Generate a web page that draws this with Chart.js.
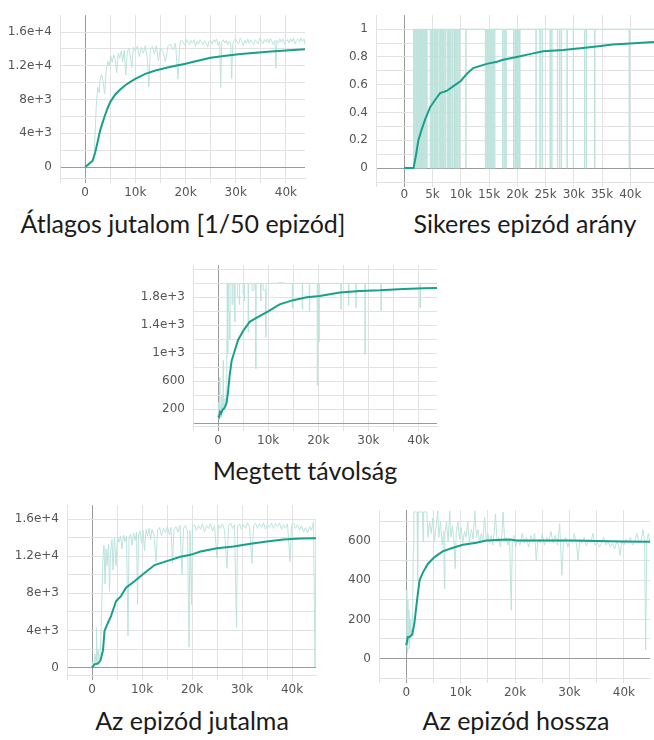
<!DOCTYPE html>
<html>
<head>
<meta charset="utf-8">
<script src="https://cdn.jsdelivr.net/npm/chart.js@4.4.0/dist/chart.umd.min.js"></script>
<style>
body{margin:0;background:#fff;width:654px;height:740px;position:relative;overflow:hidden}
canvas{position:absolute}
.cap{position:absolute;font-family:Lato,"Noto Sans",sans-serif;font-size:25px;line-height:25px;color:#1b1b1b;white-space:nowrap;transform:translateX(-50%)}
</style>
</head>
<body>
<canvas id="c1" width="310" height="205" style="left:0;top:0"></canvas>
<canvas id="c2" width="324" height="205" style="left:330px;top:0"></canvas>
<canvas id="c3" width="300" height="200" style="left:140px;top:250px"></canvas>
<canvas id="c4" width="320" height="215" style="left:0;top:490px"></canvas>
<canvas id="c5" width="324" height="215" style="left:330px;top:490px"></canvas>

<div class="cap" style="left:183px;top:211px">Átlagos jutalom [1/50 epizód]</div>
<div class="cap" style="left:525px;top:211px">Sikeres epizód arány</div>
<div class="cap" style="left:305px;top:458px">Megtett távolság</div>
<div class="cap" style="left:192px;top:708px">Az epizód jutalma</div>
<div class="cap" style="left:516px;top:708px">Az epizód hossza</div>

<script>
// steps are in thousands
var xGrid = [-5, 0, 5, 10, 15, 20, 25, 30, 35, 40];
var xLabels = ['', '0', '', '10k', '', '20k', '', '30k', '', '40k'];
var xLabels2 = ['', '0', '5k', '10k', '15k', '20k', '25k', '30k', '35k', '40k'];

// Átlagos jutalom
var smoothSteps1 = [0,0.5,1,1.5,2,2.5,3,3.5,4,4.5,5,6,7,8,9,10,12,14,16,18,20,22,25,28,31,34,37,40,43.8];
var smooth1 = [0,250,500,750,1700,3000,4350,5300,6200,7000,7700,8600,9200,9700,10100,10450,11050,11450,11750,12000,12250,12550,12950,13200,13400,13550,13700,13820,13960];
var rawSteps1 = [0,0.5,1,1.5,1.8,2.0,2.2,2.5,2.8,3.0,3.3,3.6,3.9,4.2,4.5,4.8,5.1,5.4,5.7,6.0,6.3,6.6,6.9,7.2,7.5,7.8,8.1,8.4,8.7,9.0,9.3,9.6,10,10.4,10.8,11.2,11.6,12.0,12.4,12.7,13.0,13.4,13.8,14.2,14.6,15.0,15.5,16.0,16.5,17,17.5,18,18.5,18.8,
  19.0,19.3,19.6,19.9,20.2,20.5,20.8,21.1,21.4,21.7,22.0,22.3,22.6,22.9,23.2,23.5,23.8,24.1,24.4,24.7,25.0,25.3,25.6,25.9,26.2,26.5,26.8,27.0,27.2,27.5,
  27.8,28.1,28.4,28.7,29.0,29.2,29.4,29.7,30.0,30.3,30.6,30.9,31.2,31.5,31.8,32.1,32.4,32.7,33.0,33.3,33.6,33.9,34.2,34.5,34.8,35.1,35.4,35.7,36.0,36.3,
  36.6,36.9,37.2,37.5,37.8,38.0,38.2,38.5,38.8,39.1,39.4,39.7,40.0,40.3,40.6,40.9,41.2,41.5,41.8,42.1,42.4,42.7,43.0,43.3,43.6,43.8];
var raw1 = [0,100,300,600,1500,4000,7000,9500,8800,10500,11000,10000,8700,11500,12500,12000,13200,12400,13300,12800,11200,13500,12900,13800,12500,13900,10900,13600,14100,13200,11800,14200,13800,14300,13100,14200,13500,14400,12800,9500,13900,14300,13400,14400,12600,14100,13700,12500,14300,14600,13900,14700,10400,14200,
  14900,15000,14700,14400,15100,14800,14500,15000,14700,15100,14300,14900,14600,15100,14800,14500,15000,14700,14200,14900,15000,14600,15100,14800,15200,14400,14900,9400,14800,15100,
  14700,15000,14500,14900,14600,10500,14600,15000,15200,14800,14600,15300,14900,14400,15000,14700,15200,14600,15100,14800,14500,15100,14800,14600,15300,14900,14600,15100,14800,15200,
  14700,15300,14900,14500,15000,11700,15000,14700,15200,14800,15200,14600,15000,15100,14700,15200,14800,15300,14600,15000,15200,14800,15300,14900,15200,14500];
var yGrid1 = [0,2000,4000,6000,8000,10000,12000,14000,16000];
var yLabels1 = ['0','','4e+3','','8e+3','','1.2e+4','','1.6e+4'];

// Sikeres epizód arány
var smoothSteps2 = [0,1.65,2.1,2.5,3.1,3.7,4.6,5.8,6.35,7.5,8.7,10,11.1,12.2,14.6,16.4,17.5,19.9,22.2,24.6,28.1,31.6,34,36.9,39.9,44.2];
var smooth2 = [0,0,0.1,0.2,0.28,0.35,0.44,0.51,0.54,0.555,0.59,0.627,0.68,0.72,0.75,0.765,0.78,0.80,0.82,0.84,0.85,0.864,0.875,0.89,0.896,0.908];
// raw value is 0 inside these step ranges, 1 elsewhere
var zeroRuns2 = [[0,1.65],[1.75,1.85],[1.95,2.05],[2.15,2.25],[2.35,2.45],[2.55,2.65],[2.75,2.85],[2.95,3.05],[3.15,3.25],[3.35,3.45],[3.55,3.65],[3.75,3.85],[3.95,4.05],
  [4.6,4.7],[4.8,4.9],[5.0,5.1],[5.25,5.35],[5.5,5.6],[5.7,5.8],[5.9,6.0],[6.2,6.3],[6.4,6.5],[6.6,6.7],[6.8,6.9],[7.0,7.1],[7.25,7.35],[7.6,7.7],[7.8,7.9],[8.0,8.1],[8.2,8.3],[8.5,8.6],[8.8,8.9],[9.0,9.1],[9.2,9.3],[9.45,9.55],[9.7,9.8],
  [10.9,10.95],[14.35,14.45],[14.55,14.65],[14.75,14.85],[14.95,15.05],[15.2,15.3],[15.45,15.55],[15.7,15.8],[15.95,16.05],
  [17.4,17.5],[17.7,17.8],[17.95,18.05],[19.35,19.45],[19.6,19.7],[19.85,19.95],[20.1,20.2],[20.4,20.5],
  [23.3,23.35],[24.0,24.05],[24.4,24.45],[25.8,25.85],[26.1,26.15],[27.1,27.15],[27.5,27.55],[27.8,27.85],[28.8,28.85],[29.9,29.95],[31.9,31.95],[32.2,32.25],[33.7,33.75],[39.8,39.85]];
var rawEnd2 = 44.2;
var yGrid2 = [0,0.1,0.2,0.3,0.4,0.5,0.6,0.7,0.8,0.9,1.0];
var yLabels2 = ['0','','0.2','','0.4','','0.6','','0.8','','1'];

// Megtett távolság
var smoothSteps3 = [0,0.2,0.4,0.6,0.9,1.3,1.7,2.0,2.3,2.7,3.3,4.0,5.0,6.3,8.0,10,12.3,15,17.7,20.3,24.3,28.3,32.3,37,41,43.7];
var smooth3 = [110,90,160,140,190,220,290,450,670,890,1030,1190,1320,1450,1520,1600,1700,1760,1800,1820,1870,1890,1900,1920,1930,1935];
var rawSteps3 = [0,0.1,0.2,0.3,0.4,0.5,0.6,0.7,0.8,0.9,1.0,1.1,1.2,1.4,1.6,1.75,1.8,1.9,2.0,2.1,2.3,2.4,2.6,2.8,3.0,3.3,3.4,3.6,3.9,4.2,4.3,4.6,5.0,5.2,5.3,5.6,6.0,6.1,6.4,6.8,7.2,7.5,7.6,8.0,8.5,8.6,9.0,9.5,9.6,10,11,12,13,14,14.8,14.9,15.5,16.2,16.8,16.9,17.5,18.2,18.3,19,19.8,19.9,20.1,20.2,21,22,23,24.5,24.6,25.5,26,26.1,27,27.5,27.6,28.5,29.3,29.4,30.5,31.5,32.5,32.6,33.5,35,36.5,38,40.3,40.4,41.5,43,43.7];
var raw3 = [80,300,60,650,100,250,80,400,150,300,900,200,350,250,500,1200,2000,1000,2000,1600,1200,2000,2000,1700,2000,1450,2000,2000,1800,1700,2000,2000,1850,1750,2000,2000,1300,2000,2000,1900,2000,780,2000,2000,1750,2000,1900,1230,2000,2000,2000,2010,2000,2000,1650,2000,2000,2000,1630,2000,2000,1590,2000,2000,540,2000,1160,2000,2000,2000,2000,1630,2000,2000,1680,2000,2000,1650,2000,2000,985,2000,2000,2000,1610,2000,2000,2000,2000,2000,1650,2000,2000,2000,2000];
var yGrid3 = [0,200,400,600,800,1000,1200,1400,1600,1800,2000,2200];
var yLabels3 = ['','200','','600','','1e+3','','1.4e+3','','1.8e+3','',''];

// Az epizód jutalma
var smoothSteps4 = [0,0.5,1.2,1.7,2.2,2.5,3.2,3.8,4.8,5.8,6.8,8.5,10.5,12.5,15.1,17.7,19.7,21.7,25,28.3,31.7,35,38.3,41.6,44.8];
var smooth4 = [0,350,430,780,1850,3950,4850,5550,7150,7700,8600,9300,10200,11050,11500,11950,12150,12500,12850,13050,13350,13600,13800,13900,13950];
var rawSteps4 = [0,0.2,0.4,0.6,0.8,0.9,1.0,1.2,1.4,1.6,1.8,2.0,2.2,2.4,2.6,2.8,3.0,3.3,3.5,3.7,4.0,4.2,4.5,4.8,5.1,5.4,5.7,6.0,6.3,6.6,6.9,7.2,7.4,7.7,8.0,8.3,8.6,8.9,9.1,9.3,9.6,9.9,10.2,10.5,10.8,11.1,11.4,11.7,12.0,12.4,12.8,13.1,13.5,13.9,14.3,14.7,15.1,15.5,15.8,16.1,16.4,16.8,17.2,17.6,18.0,18.3,18.7,19.1,19.4,19.6,19.9,20.1,20.5,20.9,21.3,21.7,22.1,22.5,22.9,23.3,23.7,24.1,24.5,25.0,25.3,25.7,26.1,26.5,27.0,27.3,27.7,28.1,28.5,28.9,29.1,29.5,29.9,30.3,30.7,31.1,31.5,32.0,32.3,32.7,33.1,33.5,33.9,34.3,34.7,35.1,35.5,35.9,36.3,36.7,37.1,37.5,37.9,38.3,38.7,39.1,39.6,39.9,40.3,40.7,41.1,41.5,41.9,42.3,42.7,43.1,43.5,43.9,44.3,44.6,44.8];
var raw4 = [0,600,200,1500,300,4300,500,2000,800,1200,3500,8000,12000,13200,9000,12800,11000,13300,8200,12500,13800,10500,14000,11000,14100,13500,14200,12800,14300,13600,14200,3440,14000,14400,13200,14500,13700,14600,6800,14300,14700,13400,14800,12600,14900,14200,15000,13800,14900,14300,11400,14800,15100,14200,15000,14500,15200,14300,15100,11250,14900,15200,14600,15300,10000,15000,15300,14700,2200,14800,6800,15200,15400,14800,15300,14900,15500,14600,15300,15000,15500,14700,15300,11800,15400,15000,15500,14800,10700,15300,15600,15000,15400,4330,15200,15500,14900,15400,15000,15600,15100,11250,15300,15600,15000,15500,15100,15600,14900,15400,15100,15600,15000,15500,15200,15600,14900,15400,15000,15500,11430,15300,15600,15000,15400,14800,15300,14600,15100,14500,15200,14800,15700,70,15900];
var yGrid4 = [0,2000,4000,6000,8000,10000,12000,14000,16000];
var yLabels4 = ['0','','4e+3','','8e+3','','1.2e+4','','1.6e+4'];

// Az epizód hossza
var smoothSteps5 = [0,0.3,0.6,1.1,1.5,2.0,2.45,3.1,4.0,5.2,6.7,8.6,10.4,12.9,14.7,17.8,19.0,20.2,25.8,30.7,35,39.9,44.8];
var smooth5 = [68,110,110,122,180,300,400,442,485,519,548,567,582,592,604,608,609,604,604,604,601,599,598];
var rawSteps5 = [0,0.1,0.2,0.3,0.4,0.5,0.6,0.7,0.8,0.9,1.0,1.2,1.3,1.4,2.0,2.1,2.2,3.0,3.1,3.2,3.8,4.0,4.3,4.6,4.9,5.2,5.5,5.8,6.0,6.3,6.6,6.9,7.0,7.1,7.4,7.7,8.0,8.2,8.5,8.8,9.0,9.2,9.5,9.8,10.1,10.4,10.7,11.0,11.3,11.6,12.0,12.3,12.6,12.9,13.2,13.5,13.8,14.1,14.4,14.7,15.0,15.3,15.6,15.9,16.2,16.4,16.7,17.0,17.3,17.6,17.8,18.1,18.4,18.7,19.0,19.3,19.5,19.8,20.1,20.5,20.9,21.3,21.7,22.1,22.5,22.9,23.3,23.6,23.9,24.2,24.6,25.0,25.4,25.8,26.2,26.6,27.0,27.4,27.8,28.2,28.6,28.9,29.3,29.7,30.1,30.5,30.9,31.3,31.6,31.9,32.3,32.7,33.1,33.5,33.9,34.3,34.7,35.1,35.5,35.9,36.3,36.7,37.1,37.5,37.9,38.3,38.7,39.0,39.3,39.6,40.0,40.4,40.8,41.2,41.6,42.0,42.4,42.8,43.2,43.5,43.8,44.0,44.2,44.5,44.8];
var raw5 = [60,350,30,300,80,250,50,200,100,150,120,250,550,750,750,400,750,750,600,750,750,620,700,640,720,600,680,755,620,700,580,650,357,640,700,600,755,620,680,590,460,650,700,610,670,590,650,620,700,600,660,610,755,620,660,590,640,600,723,610,640,590,630,580,650,740,600,620,570,640,750,600,620,580,610,247,600,630,570,610,580,640,590,620,570,630,600,640,502,610,590,640,580,620,600,650,590,630,580,690,425,600,620,570,610,590,640,580,502,610,590,620,575,610,590,640,580,600,570,590,620,580,600,570,590,560,600,580,528,600,580,610,590,620,580,600,640,590,610,660,600,43,600,640,590];
var yGrid5 = [0,100,200,300,400,500,600,700];
var yLabels5 = ['0','','200','','400','','600',''];

var SMOOTH = '#17a08a';
var RAW = '#bde3dc';
var GRID = '#e2e2e2';
var ZERO = '#9a9a9a';
var TICK_FONT = {family: 'DejaVu Sans', size: 12};

function pts(xs, ys) {
  return xs.map(function (x, i) { return {x: x, y: ys[i]}; });
}

function runsToPts(runs, end) {
  var out = [];
  runs.forEach(function (r) {
    out.push({x: r[0], y: 0});
    out.push({x: r[1], y: 1});
  });
  out.push({x: end, y: 1});
  return out;
}

function gridColor(c) {
  return c.tick && c.tick.value === 0 ? ZERO : GRID;
}

function makeChart(id, o) {
  var ctx = document.getElementById(id).getContext('2d');
  return new Chart(ctx, {
    type: 'line',
    data: {
      datasets: [
        {data: o.smooth, borderColor: SMOOTH, borderWidth: 2, pointRadius: 0, order: 0},
        {data: o.raw, borderColor: RAW, borderWidth: 1, pointRadius: 0, stepped: o.stepped || false, order: 1}
      ]
    },
    options: {
      responsive: false,
      animation: false,
      events: [],
      layout: {padding: {top: o.padTop, right: o.padRight, left: 0, bottom: 0}},
      plugins: {legend: {display: false}, tooltip: {enabled: false}},
      scales: {
        x: {
          type: 'linear', min: o.xMin, max: o.xMax,
          afterBuildTicks: function (s) { s.ticks = xGrid.map(function (v) { return {value: v}; }); },
          afterFit: function (s) { s.height = o.xH; },
          ticks: {autoSkip: false, maxRotation: 0, padding: o.xPad, color: '#555', font: TICK_FONT,
            callback: function (v, i) { return o.xLabels[i]; }},
          grid: {color: gridColor, tickLength: 5},
          border: {display: true, color: GRID}
        },
        y: {
          type: 'linear', min: o.yMin, max: o.yMax,
          afterBuildTicks: function (s) { s.ticks = o.yGrid.map(function (v) { return {value: v}; }); },
          afterFit: function (s) { s.width = o.yW; },
          ticks: {autoSkip: false, padding: 8, color: '#555', font: TICK_FONT,
            callback: function (v, i) { return o.yLabels[i]; }},
          grid: {color: gridColor, drawTicks: false},
          border: {display: true, color: GRID}
        }
      }
    }
  });
}

makeChart('c1', {
  smooth: pts(smoothSteps1, smooth1), raw: pts(rawSteps1, raw1),
  xMin: -5, xMax: 43.8, yMin: -1300, yMax: 18000,
  yGrid: yGrid1, yLabels: yLabels1, xLabels: xLabels,
  yW: 60, xH: 27, padTop: 5, padRight: 5, xPad: 3
});
makeChart('c2', {
  smooth: pts(smoothSteps2, smooth2), raw: runsToPts(zeroRuns2, rawEnd2), stepped: 'before',
  xMin: -5, xMax: 44.2, yMin: -0.1, yMax: 1.1,
  yGrid: yGrid2, yLabels: yLabels2, xLabels: xLabels2,
  yW: 46, xH: 23, padTop: 8, padRight: 0, xPad: 1
});
makeChart('c3', {
  smooth: pts(smoothSteps3, smooth3), raw: pts(rawSteps3, raw3), stepped: 'before',
  xMin: -5, xMax: 43.7, yMin: -40, yMax: 2260,
  yGrid: yGrid3, yLabels: yLabels3, xLabels: xLabels,
  yW: 53, xH: 24, padTop: 5, padRight: 3, xPad: 3
});
makeChart('c4', {
  smooth: pts(smoothSteps4, smooth4), raw: pts(rawSteps4, raw4),
  xMin: -5, xMax: 44.8, yMin: -800, yMax: 17500,
  yGrid: yGrid4, yLabels: yLabels4, xLabels: xLabels,
  yW: 67, xH: 30, padTop: 13, padRight: 4, xPad: 3
});
makeChart('c5', {
  smooth: pts(smoothSteps5, smooth5), raw: pts(rawSteps5, raw5),
  xMin: -5, xMax: 44.8, yMin: -100, yMax: 760,
  yGrid: yGrid5, yLabels: yLabels5, xLabels: xLabels,
  yW: 49, xH: 27, padTop: 20, padRight: 4, xPad: 3
});
</script>
</body>
</html>
